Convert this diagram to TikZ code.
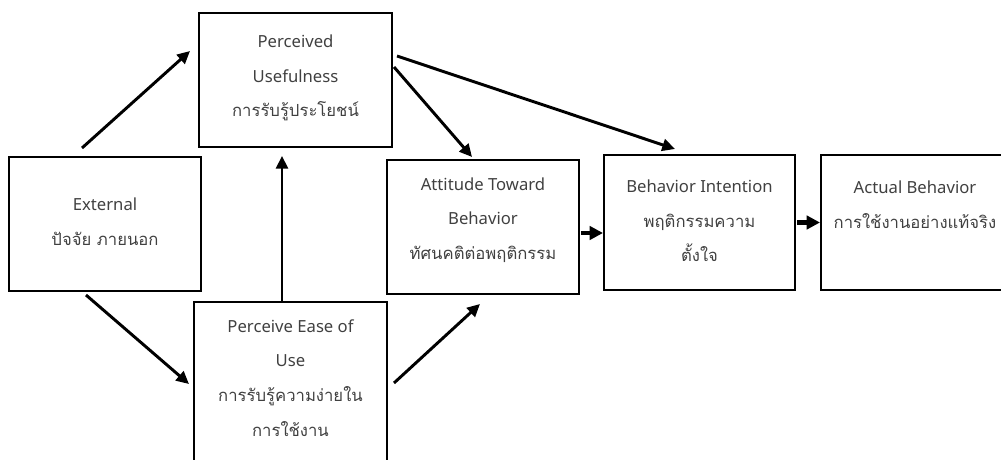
\documentclass[tikz,border=0pt]{standalone}
\usepackage{fontspec}
\setmainfont{Noto Sans}
\newfontfamily\thaifont[Script=Thai]{Loma}
\usetikzlibrary{arrows.meta}
\definecolor{txt}{gray}{0.25}
\tikzset{
  box/.style={draw=black, line width=1.5pt, rectangle, inner sep=0pt},
  lbl/.style={align=center, text=txt, inner sep=0pt,
    font=\fontsize{12.5}{26}\selectfont},
  arr/.style={line width=2.2pt, -{Triangle[length=9.5pt, width=9pt]}},
  fat/.style={line width=3.6pt, -{Triangle[length=10pt, width=10pt]}},
}
\begin{document}
\begin{tikzpicture}[x=0.75pt, y=-0.75pt]
\useasboundingbox (0,0) rectangle (1001,460);
\begin{scope}
\clip (0,0) rectangle (1001,460);
% boxes (pixel coordinates, y downwards)
\node[box, minimum width=192*0.75pt, minimum height=134*0.75pt] (ext)  at (105,224) {};
\node[box, minimum width=193*0.75pt, minimum height=134*0.75pt] (pu)   at (295.5,80) {};
\node[box, minimum width=193*0.75pt, minimum height=162*0.75pt] (peou) at (290.5,383) {};
\node[box, minimum width=192*0.75pt, minimum height=134*0.75pt] (att)  at (483,227) {};
\node[box, minimum width=191*0.75pt, minimum height=135*0.75pt] (bi)   at (699.5,222.5) {};
\node[box, minimum width=191*0.75pt, minimum height=135*0.75pt] (ab)   at (916.5,222.5) {};

% box texts
\node[lbl] (text-ext)  at (105,222) {External\\{\thaifont ปัจจัย ภายนอก}};
\node[lbl] (text-pu)   at (295.5,78) {Perceived\\Usefulness\\{\thaifont การรับรู้ประโยชน์}};
\node[lbl] (text-peou) at (290.5,378) {Perceive Ease of\\Use\\{\thaifont การรับรู้ความง่ายใน}\\{\thaifont การใช้งาน}};
\node[lbl] (text-att)  at (483,220) {Attitude Toward\\Behavior\\{\thaifont ทัศนคติต่อพฤติกรรม}};
\node[lbl] (text-bi)   at (699.5,221) {Behavior Intention\\{\thaifont พฤติกรรมความ}\\{\thaifont ตั้งใจ}};
\node[lbl] (text-ab)   at (915,205) {Actual Behavior\\{\thaifont การใช้งานอย่างแท้จริง}};

% connectors
\draw[arr] ([shift={(74,-8)}]ext.north west) -- ([shift={(-8,39)}]pu.north west);
\draw[arr] ([shift={(78,3)}]ext.south west) -- ([shift={(-4,83)}]peou.north west);
\draw[arr] ([xshift=-8.5*0.75pt]peou.north) -- ([shift={(-13.5,8)}]pu.south);
\draw[arr] ([shift={(1,55)}]pu.north east) -- ([shift={(86,-2)}]att.north west);
\draw[arr] ([shift={(4,44)}]pu.north east) -- ([shift={(72,-5)}]bi.north west);
\draw[arr] ([shift={(6,82)}]peou.north east) -- ([shift={(94,9)}]att.south west);
\draw[fat] ([shift={(1,6)}]att.east) -- ([shift={(0,10.5)}]bi.west);
\draw[fat] ([shift={(1,0)}]bi.east) -- (ab.west);
\end{scope}
\end{tikzpicture}
\end{document}
